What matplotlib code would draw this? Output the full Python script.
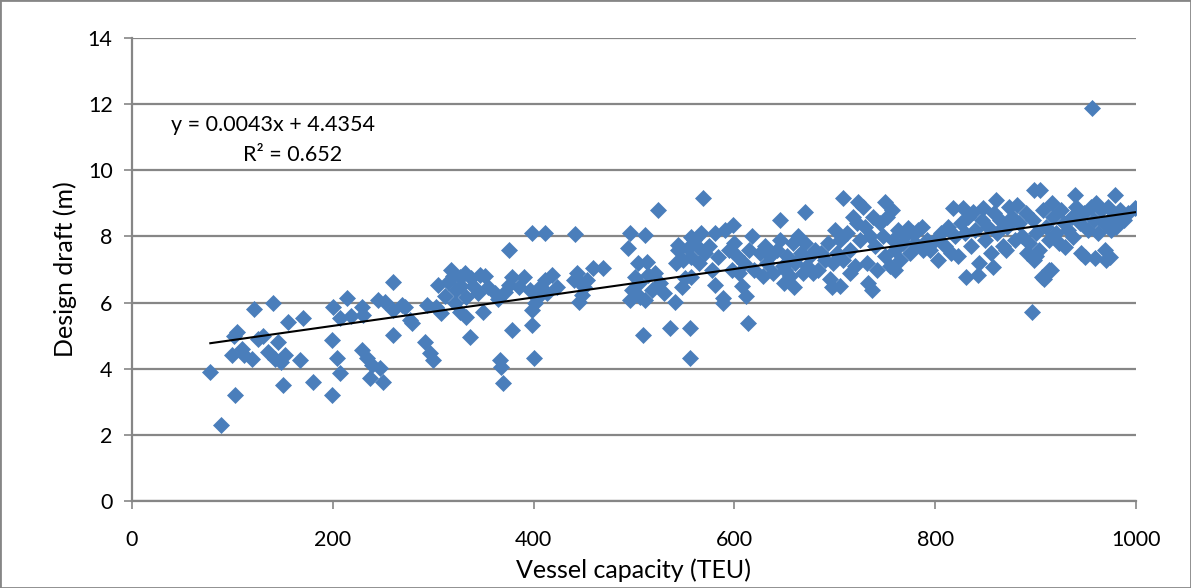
import numpy as np
import matplotlib
matplotlib.use("Agg")
import matplotlib.pyplot as plt
from matplotlib.patches import Rectangle

plt.rcParams['font.family'] = ['Lato', 'DejaVu Sans']

# Vessel capacity (TEU) and design draft (m), one entry per vessel
capacity = [
    78, 89, 100, 102, 105, 103, 110, 112, 120, 122, 125, 130, 135, 140, 142, 145, 148, 150, 152, 155,
    167, 170, 180, 199, 199, 200, 204, 207, 207, 214, 218, 229, 230, 229, 234, 239, 237, 247, 250, 245,
    252, 260, 260, 260, 269, 277, 272, 279, 292, 297, 300, 294,
    303, 308, 305, 315, 318, 327, 332, 338, 347, 323, 333, 322, 327, 333, 350, 355, 362, 372, 375, 378,
    337, 375, 378, 367, 368, 370, 312, 340, 345, 352, 365, 385, 390, 396, 406, 411, 418, 423, 413, 403,
    398, 411, 441, 400, 398, 398, 401, 443, 446, 450, 448, 445, 459, 469, 440, 453, 328, 320,
    524, 569, 496, 511, 494, 504, 513, 501, 514, 521, 526, 498, 506, 511, 496, 518, 509, 536, 556, 556,
    541, 544, 557, 567, 544, 554, 564, 542, 549, 557, 571, 551, 557, 548, 581, 584, 581, 589, 591, 530,
    505, 560, 575, 578, 565, 595, 598, 589,
    599, 645, 670, 614, 649, 659, 600, 603, 605, 608, 610, 612, 615, 618, 620, 625, 628, 630, 632, 635,
    638, 642, 645, 648, 650, 652, 655, 658, 660, 663, 666, 668, 670, 672, 675, 678, 680, 683, 686, 690,
    693, 695, 697, 698,
    708, 723, 750, 757, 737, 787, 773, 700, 702, 705, 708, 712, 715, 718, 720, 722, 725, 728, 730, 732,
    735, 738, 740, 742, 745, 748, 750, 752, 755, 758, 760, 763, 765, 768, 770, 775, 778, 780, 783, 788,
    792, 733, 705, 715, 760,
    818, 828, 838, 848, 861, 874, 881, 898, 795, 831, 843, 896, 858, 871, 891, 898, 956, 904, 916, 939,
    979, 999, 975, 960, 937, 913, 949, 959, 969, 974, 923, 929, 906,
    800, 803, 806, 810, 813, 816, 820, 823, 826, 830, 833, 836, 840, 844, 847, 850, 853, 856, 859, 862,
    865, 868, 872, 876, 879, 883, 886, 890, 893, 897, 900, 903, 907, 910, 913, 917, 920, 925, 928, 932,
    936, 940, 944, 948, 952, 955, 958, 962, 965, 968, 972, 976, 980, 984, 988, 992, 908, 915, 900, 945,
    970,
]
draft = [
    3.9, 2.3, 4.4, 5.0, 5.1, 3.2, 4.6, 4.4, 4.3, 5.8, 4.9, 5.0, 4.5, 6.0, 4.3, 4.8, 4.2, 3.5, 4.4, 5.4,
    4.26, 5.53, 3.6, 3.2, 4.87, 5.88, 4.32, 3.87, 5.53, 6.13, 5.6, 5.88, 5.62, 4.56, 4.31, 4.11, 3.72, 4.02, 3.6, 6.08,
    6.03, 5.78, 6.63, 5.02, 5.93, 5.47, 5.88, 5.37, 4.82, 4.47, 4.26, 5.93,
    5.88, 5.68, 6.53, 6.63, 6.98, 6.78, 6.88, 6.73, 6.83, 6.38, 6.18, 5.98, 5.72, 5.57, 5.72, 6.48, 6.28, 6.33, 6.53, 6.78,
    4.97, 7.59, 5.17, 4.26, 4.06, 3.56, 6.2, 6.5, 6.3, 6.8, 6.1, 6.48, 6.78, 6.38, 6.48, 6.68, 6.83, 6.48, 6.28, 6.13,
    8.09, 8.11, 8.07, 4.31, 5.32, 5.78, 5.98, 6.88, 6.63, 6.48, 6.23, 6.03, 7.04, 7.04, 6.68, 6.68, 6.5, 6.8,
    8.8, 9.15, 8.09, 8.04, 7.64, 7.19, 7.24, 6.78, 6.83, 6.88, 6.58, 6.38, 6.18, 6.08, 6.08, 6.38, 5.02, 5.22, 5.22, 4.31,
    6.03, 7.74, 7.99, 8.09, 7.59, 7.64, 7.69, 7.19, 7.29, 7.39, 7.49, 6.73, 6.78, 6.48, 8.09, 7.39, 6.53, 6.13, 8.19, 6.3,
    6.6, 7.9, 7.7, 7.0, 7.2, 7.6, 7.0, 5.98,
    8.35, 8.5, 8.75, 5.37, 6.58, 6.48, 7.8, 7.4, 6.9, 6.5, 7.2, 6.2, 7.6, 8.0, 7.0, 7.5, 6.8, 7.7, 7.2, 7.4,
    6.9, 7.6, 7.9, 7.1, 7.0, 7.4, 6.8, 7.8, 7.2, 8.0, 7.5, 6.9, 7.8, 7.1, 7.4, 6.9, 7.6, 7.0, 7.5, 7.3,
    7.8, 6.7, 6.48, 7.2,
    9.15, 9.05, 9.05, 8.8, 6.38, 8.3, 8.25, 8.2, 7.5, 7.9, 7.3, 8.1, 7.6, 8.6, 7.1, 8.4, 7.9, 8.9, 8.3, 7.2,
    8.0, 8.6, 7.7, 7.0, 8.4, 8.0, 7.4, 8.6, 7.1, 7.9, 7.6, 8.2, 7.3, 7.8, 8.0, 7.5, 8.1, 7.8, 8.2, 7.6,
    7.9, 6.6, 6.5, 6.9, 7.0,
    8.85, 8.85, 8.75, 8.85, 9.1, 8.9, 8.95, 9.4, 7.59, 6.78, 6.83, 5.72, 7.08, 7.59, 7.49, 7.29, 11.87, 9.4, 9.0, 9.25,
    9.25, 8.85, 8.19, 9.0, 7.99, 6.98, 7.39, 7.34, 7.59, 7.39, 7.79, 7.69, 6.78,
    7.9, 7.3, 8.1, 7.7, 8.3, 7.5, 8.0, 7.4, 8.4, 8.1, 8.6, 7.7, 8.2, 7.2, 8.5, 7.9, 8.3, 7.5, 8.7, 8.1,
    8.5, 7.7, 8.3, 8.6, 7.9, 8.4, 8.0, 8.7, 7.8, 8.5, 8.1, 7.6, 8.8, 8.3, 7.9, 8.6, 8.1, 8.8, 8.4, 8.2,
    8.6, 8.9, 8.4, 8.7, 8.2, 8.9, 8.5, 8.1, 8.8, 8.4, 8.9, 8.6, 8.3, 8.8, 8.5, 8.7, 6.7, 7.0, 7.4, 7.5,
    7.3,
]

# linear trendline as reported on the chart
slope = 0.0043
intercept = 4.4354
r_squared = 0.652

x_ticks = [0, 200, 400, 600, 800, 1000]
y_ticks = [0, 2, 4, 6, 8, 10, 12, 14]

grey = '#868686'
blue = '#4a7ebb'

fig = plt.figure(figsize=(11.91, 5.88), dpi=100)
ax = fig.add_axes([132 / 1191, 87 / 588, 1004 / 1191, 463 / 588])

ax.plot(capacity, draft, linestyle='none', marker='D', markersize=8.6,
        markerfacecolor=blue, markeredgecolor=blue, markeredgewidth=0.5, zorder=3)

x_fit = np.array([min(capacity), max(capacity)])
ax.plot(x_fit, slope * x_fit + intercept, color='black', linewidth=1.5, zorder=4)

ax.text(140, 11.37, f"y = {slope}x + {intercept}", fontsize=15.5, ha='center', va='center')
ax.text(160, 10.46, f"R² = {r_squared}", fontsize=15.5, ha='center', va='center')

ax.set_xlim(0, 1000)
ax.set_ylim(0, 14)
ax.set_xticks(x_ticks)
ax.set_yticks(y_ticks)
ax.tick_params(axis='both', labelsize=15.5, color=grey, length=6, width=1.2)
ax.tick_params(axis='x', pad=15)
ax.tick_params(axis='y', pad=8)

ax.yaxis.grid(True, color=grey, linewidth=1.6)
ax.set_axisbelow(True)
for side in ['top', 'right']:
    ax.spines[side].set_visible(False)
for side in ['left', 'bottom']:
    ax.spines[side].set_color(grey)
    ax.spines[side].set_linewidth(1.6)

ax.set_xlabel('Vessel capacity (TEU)', fontsize=18, labelpad=6)
ax.set_ylabel('Design draft (m)', fontsize=18, labelpad=8)

# chart area border
fig.patches.append(Rectangle((0, 0), 1, 1, transform=fig.transFigure, fill=False,
                             edgecolor=grey, linewidth=2))

fig.savefig('out.png', dpi=100)
